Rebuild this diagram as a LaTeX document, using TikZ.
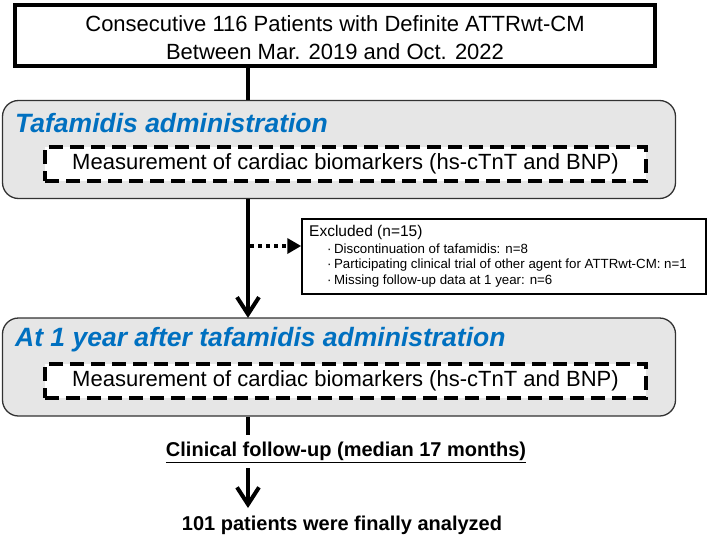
\documentclass[tikz,border=0pt]{standalone}
\usepackage{fontspec}
\setmainfont{Liberation Sans}
\usetikzlibrary{arrows.meta}
\definecolor{titleblue}{RGB}{0,112,192}
\definecolor{boxgray}{RGB}{230,230,230}
\definecolor{edgegray}{RGB}{50,50,50}
\begin{document}
\begin{tikzpicture}[x=1pt,y=-1pt,
  topbox/.style={draw, line width=4pt, minimum width=640pt, minimum height=61pt, inner sep=0pt, align=center, font=\fontsize{22}{28}\selectfont},
  graybox/.style={draw=edgegray, fill=boxgray, line width=1.3pt, rounded corners=16pt, minimum width=673pt, minimum height=98pt, inner sep=0pt},
  dashbox/.style={draw, fill=white, line width=4pt, dash pattern=on 14pt off 7pt, minimum width=601pt, minimum height=34pt, inner sep=0pt, font=\fontsize{22}{26}\selectfont},
  titletext/.style={anchor=west, inner sep=0pt, text=titleblue, font=\fontsize{26.5}{30}\selectfont\bfseries\itshape},
  mainline/.style={line width=4pt},
  mainarrow/.style={line width=4pt, -{Straight Barb[length=17pt,width=22pt,line width=4pt]}},
  dotarrow/.style={line width=4pt, dash pattern=on 4pt off 4pt, -{Triangle[length=14pt,width=15pt]}},
  exclbox/.style={draw, line width=1.5pt, minimum width=404pt, minimum height=75pt, inner sep=0pt},
  excltitle/.style={anchor=west, inner sep=0pt, font=\fontsize{15.5}{18}\selectfont},
  exclitem/.style={anchor=west, inner sep=0pt, font=\fontsize{13.3}{16}\selectfont},
  boldtext/.style={inner sep=0pt, font=\fontsize{20}{24}\selectfont\bfseries}
]
\useasboundingbox (0,0) rectangle (709,538);
\coordinate (ax) at (248,0);

\node[topbox] (top) at (335,35.5) {\rule{0pt}{20pt}Consecutive 116 Patients with Definite ATTRwt-CM\\Between Mar. 2019 and Oct. 2022};

\node[graybox] (g1) at (339,149.5) {};
\node[titletext] (t1) at (15,123) {Tafamidis administration};
\node[dashbox] (d1) at (345.5,164) {Measurement of cardiac biomarkers (hs-cTnT and BNP)};

\node[graybox] (g2) at (339,367) {};
\node[titletext] (t2) at (15,340) {At 1 year after tafamidis administration};
\node[dashbox] (d2) at (345.5,381) {Measurement of cardiac biomarkers (hs-cTnT and BNP)};

\node[exclbox] (excl) at (504,256.5) {};
\node[excltitle] (e0) at (309,232) {Excluded (n=15)};
\node[exclitem] (e1) at (327,249) {·\kern2.5pt Discontinuation of tafamidis: n=8};
\node[exclitem] (e2) at (327,265.5) {·\kern2.5pt Participating clinical trial of other agent for ATTRwt-CM: n=1};
\node[exclitem] (e3) at (327,281) {·\kern2.5pt Missing follow-up data at 1 year: n=6};

\node[boldtext] (clin) at (346,452) {\underline{Clinical follow-up (median 17 months)}};
\node[boldtext] (fin) at (342,525) {101 patients were finally analyzed};

\coordinate (dy) at (0,246);
\draw[mainline] (top.south -| ax) -- (g1.north -| ax);
\draw[mainarrow] (g1.south -| ax) -- ([yshift=-0.5pt]g2.north -| ax);
\draw[dotarrow] ([xshift=2pt]ax |- dy) -- (excl.west |- dy);
\draw[mainline] (g2.south -| ax) -- (ax |- 0,435);
\draw[mainarrow] (ax |- 0,468) -- (ax |- 0,508);
\end{tikzpicture}
\end{document}
